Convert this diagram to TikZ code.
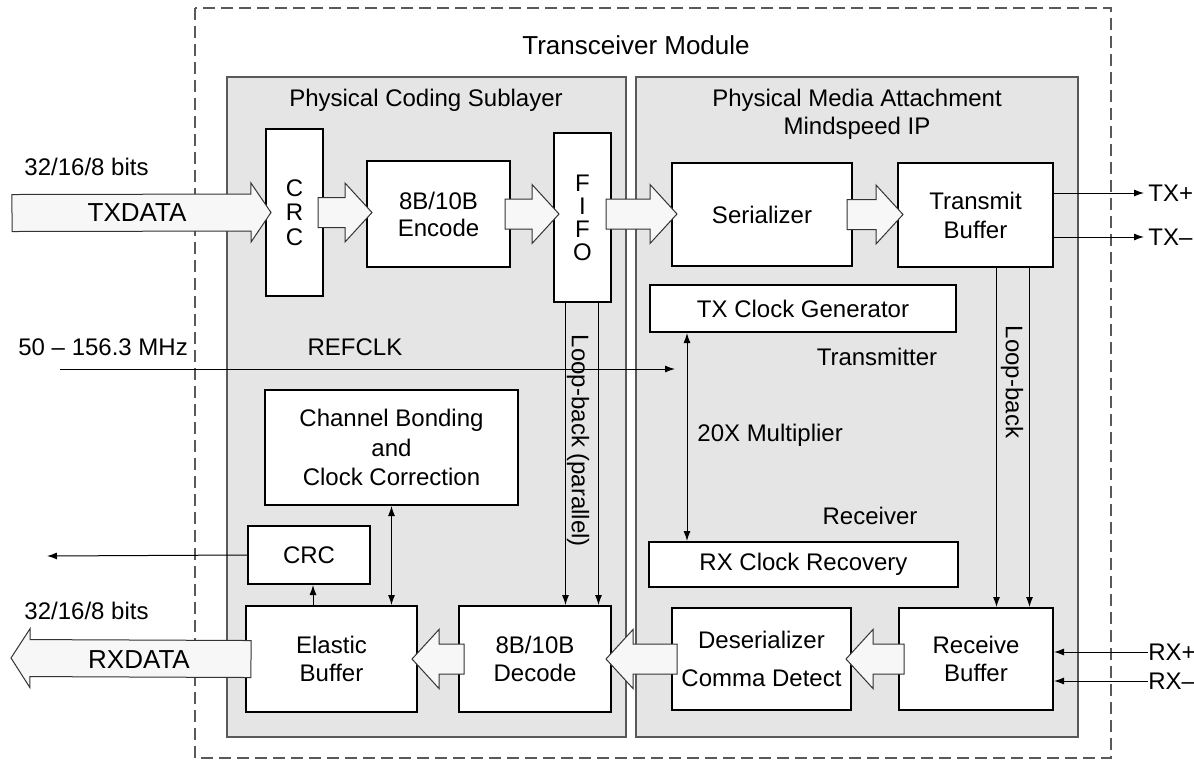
\documentclass[tikz,border=0pt]{standalone}
\usepackage{fontspec}
\setmainfont{Liberation Sans}
\usetikzlibrary{arrows.meta,calc}

\definecolor{panelgray}{gray}{0.9}
\definecolor{arrowfill}{gray}{0.97}
\definecolor{edgegray}{gray}{0.35}

% #1 half body, #2 head length, #3 tail, #4 tip
\newcommand{\fatarrow}[4]{%
  \coordinate (fa-t) at ($#3!-3pt!#4$);
  \coordinate (fa-p) at ($#4!-3pt!#3$);
  \coordinate (fa-h) at ($(fa-p)!#2!(fa-t)$);
  \filldraw[bigarr] ($(fa-t)!#1!90:(fa-p)$) -- ($(fa-h)!#1!90:(fa-p)$)
    -- ($(fa-h)!14.75pt!90:(fa-p)$) -- (fa-p) -- ($(fa-h)!14.75pt!-90:(fa-p)$)
    -- ($(fa-h)!#1!-90:(fa-p)$) -- ($(fa-t)!#1!-90:(fa-p)$) -- cycle;
}

\begin{document}
\begin{tikzpicture}[x=0.5pt, y=-0.5pt,
  every node/.style={font=\fontsize{12}{14}\selectfont},
  box/.style={draw, line width=1pt, fill=white, align=center, inner sep=0pt},
  wh/.style 2 args={minimum width=#1*0.5pt, minimum height=#2*0.5pt},
  panel/.style={draw=edgegray, fill=panelgray, line width=0.6pt},
  bigarr/.style={draw=black!80, fill=arrowfill, line width=0.5pt},
  sig/.style={line width=0.5pt, >={Latex[length=5pt,width=3.5pt]}},
  lbl/.style={inner sep=0pt}]

\useasboundingbox (0,0) rectangle (1194,760);

% module and sublayers
\draw[edgegray, dash pattern=on 6pt off 3pt, line width=0.6pt] (195,8) rectangle (1111,758);
\node[font=\fontsize{13}{15}\selectfont] (title) at (636,45) {Transceiver Module};
\draw[panel] (227,77) rectangle (626,737);
\draw[panel] (636,77) rectangle (1078,737);
\node (pcs) at (426,100) {Physical Coding Sublayer};
\node[align=center] (pma) at (857,114) {Physical Media Attachment\\Mindspeed IP};

% transmit side
\node[box, wh={57}{167}, font=\fontsize{12}{12.25}\selectfont] (crc1) at (294.5,212.5) {C\\R\\C};
\node[box, wh={143}{106}, font=\fontsize{12}{13.5}\selectfont] (enc) at (438.5,214) {8B/10B\\Encode};
\node[box, wh={57}{169}, font=\fontsize{12}{11.5}\selectfont] (fifo) at (582.5,217.5) {F\\I\\F\\O};
\node[box, wh={180}{103}] (ser) at (762,214.5) {Serializer};
\node[box, wh={155}{104}, font=\fontsize{12}{14.5}\selectfont] (tb) at (975.5,215) {Transmit\\Buffer};
\node[box, wh={306}{47}] (txclk) at (803,308.5) {TX Clock Generator};

% receive side
\node[box, wh={253}{115}, font=\fontsize{12}{14.75}\selectfont] (cb) at (391.5,447.5) {Channel Bonding\\and\\Clock Correction};
\node[box, wh={122}{58}] (crc2) at (309,555) {CRC};
\node[box, wh={309}{45}] (rxclk) at (803.5,564.5) {RX Clock Recovery};
\node[box, wh={171}{106}] (eb) at (331.5,659) {Elastic\\Buffer};
\node[box, wh={152}{106}] (dec) at (535,659) {8B/10B\\Decode};
\node[box, wh={179}{102}, font=\fontsize{12}{19}\selectfont] (des) at (761.5,659) {Deserializer\\Comma Detect};
\node[box, wh={154}{102}] (rb) at (976,659) {Receive\\Buffer};

% labels
\node (bitsin) at (86.5,167) {32/16/8 bits};
\node (bitsout) at (86.5,611) {32/16/8 bits};
\node[lbl, anchor=west] (freq) at (18,347) {50 – 156.3 MHz};
\node (refclk) at (355,347) {REFCLK};
\node (txlbl) at (877,357) {Transmitter};
\node[lbl, anchor=west] (mult) at (697,435) {20X Multiplier};
\node (rxlbl) at (870,516) {Receiver};
\node[rotate=-90] (lbpar) at (578,441) {Loop-back (parallel)};
\node[rotate=-90] (lbser) at (1012,382) {Loop-back};
\node[lbl, anchor=west] (txp) at (1148,193) {TX+};
\node[lbl, anchor=west] (txm) at (1148,237) {TX–};
\node[lbl, anchor=west] (rxp) at (1148,652) {RX+};
\node[lbl, anchor=west] (rxm) at (1148,681) {RX–};

\coordinate (txin) at (18,213);
\coordinate (rxout) at (17,658);
\coordinate (crcout) at (47,556);
\coordinate (refin) at (60,369);
\coordinate (refend) at (675,369);
\coordinate (mul) at (687,0);
\coordinate (lp1) at ($(fifo.south)+(-17,0)$);
\coordinate (lp2) at ($(fifo.south)+(16,0)$);
\coordinate (lb1) at ($(tb.south)+(21,0)$);
\coordinate (lb2) at ($(tb.south)+(54,0)$);
\coordinate (up) at ($(crc2.south)+(4,0)$);

% data paths
\fatarrow{9.25pt}{10pt}{(txin)}{(crc1.west)}
\fatarrow{7.5pt}{13.5pt}{(crc1.east)}{(crc1.east -| enc.west)}
\fatarrow{7.5pt}{13.5pt}{(enc.east)}{(enc.east -| fifo.west)}
\fatarrow{7.5pt}{13.5pt}{(fifo.east |- enc.east)}{(enc.east -| ser.west)}
\fatarrow{7.5pt}{13.5pt}{(ser.east)}{(ser.east -| tb.west)}
\fatarrow{7.5pt}{13.5pt}{(rb.west)}{(rb.west -| des.east)}
\fatarrow{7.5pt}{13.5pt}{(des.west)}{(des.west -| dec.east)}
\fatarrow{7.5pt}{13.5pt}{(dec.west)}{(dec.west -| eb.east)}
\fatarrow{9.25pt}{9.5pt}{(eb.west)}{(rxout)}
\node[font=\fontsize{13}{15}\selectfont] (txdata) at (137,213) {TXDATA};
\node[font=\fontsize{13}{15}\selectfont] (rxdata) at (139,660) {RXDATA};

% signals
\draw[sig, ->, shorten >=2pt] (tb.east |- txp.west) -- (txp.west);
\draw[sig, ->, shorten >=2pt] (tb.east |- txm.west) -- (txm.west);
\draw[sig, ->] (rxp.west) -- (rxp.west -| rb.east);
\draw[sig, ->] (rxm.west) -- (rxm.west -| rb.east);
\draw[sig, ->] (crc2.west) -- (crcout);
\draw[sig, ->] (refin) -- (refend);
\draw[sig, <->] (txclk.south -| mul) -- (rxclk.north -| mul);
\draw[sig, ->] (lp1) -- (lp1 |- dec.north);
\draw[sig, ->] (lp2) -- (lp2 |- dec.north);
\draw[sig, ->] (lb1) -- (lb1 |- rb.north);
\draw[sig, ->] (lb2) -- (lb2 |- rb.north);
\draw[sig, <->] (cb.south) -- (cb.south |- eb.north);
\draw[sig, ->] (up |- eb.north) -- (up);
\end{tikzpicture}
\end{document}
